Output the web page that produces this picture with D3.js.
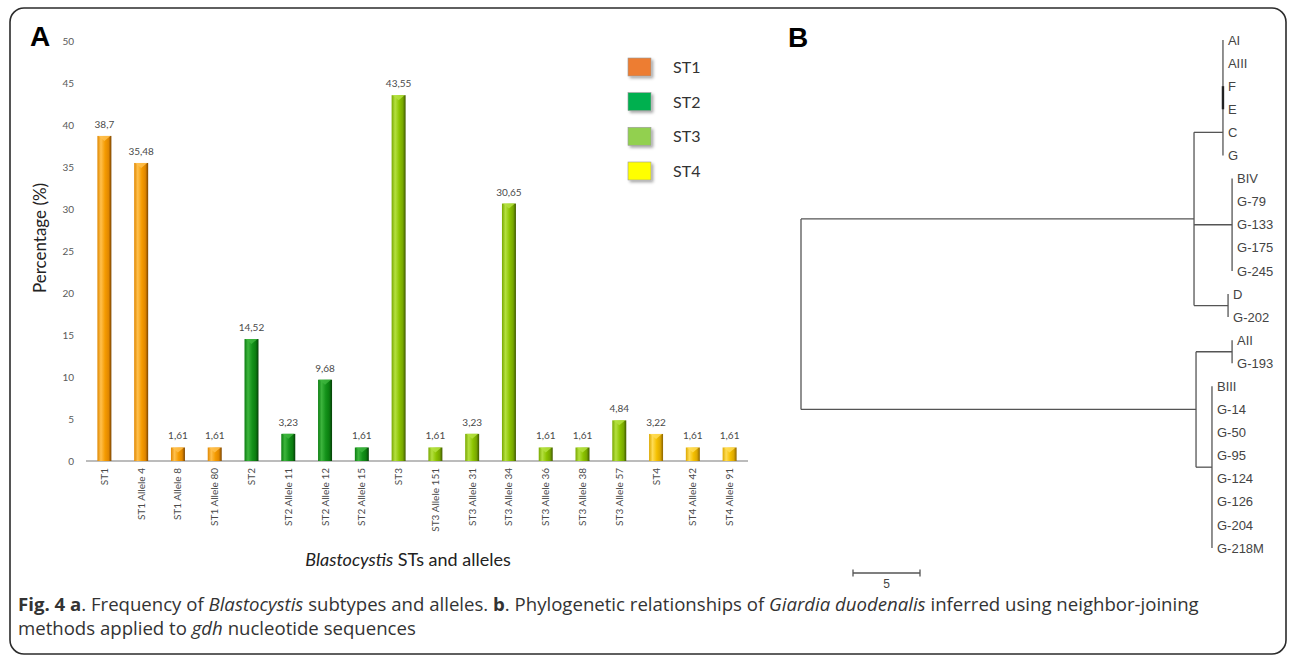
<!DOCTYPE html>
<html>
<head>
<meta charset="utf-8">
<script src="https://cdn.jsdelivr.net/npm/d3@7"></script>
<style>
  html, body { margin: 0; padding: 0; background: #fff; }
  svg { display: block; }
</style>
</head>
<body>
<script>
// data - panel A
var categories = ['ST1', 'ST1 Allele 4', 'ST1 Allele 8', 'ST1 Allele 80',
    'ST2', 'ST2 Allele 11', 'ST2 Allele 12', 'ST2 Allele 15',
    'ST3', 'ST3 Allele 151', 'ST3 Allele 31', 'ST3 Allele 34', 'ST3 Allele 36', 'ST3 Allele 38', 'ST3 Allele 57',
    'ST4', 'ST4 Allele 42', 'ST4 Allele 91'];
var values = [38.7, 35.48, 1.61, 1.61, 14.52, 3.23, 9.68, 1.61, 43.55, 1.61, 3.23, 30.65, 1.61, 1.61, 4.84, 3.22, 1.61, 1.61];
var yTicks = [0, 5, 10, 15, 20, 25, 30, 35, 40, 45, 50];
var legendNames = ['ST1', 'ST2', 'ST3', 'ST4'];
var legendColors = ['#ed7d31', '#00b050', '#92d050', '#ffff00'];
// data - panel B (branch lengths, NJ tree)
var leafNames = ['AI', 'AIII', 'F', 'E', 'C', 'G', 'BIV', 'G-79', 'G-133', 'G-175', 'G-245', 'D', 'G-202',
    'AII', 'G-193', 'BIII', 'G-14', 'G-50', 'G-95', 'G-124', 'G-126', 'G-204', 'G-218M'];
var treeData = {
    len: 0, children: [
        { len: 29.33, children: [
            { len: 2.16, joinAt: 'C', children: [
                { name: 'AI', len: 0 }, { name: 'AIII', len: 0 },
                { len: 0, thick: true, children: [{ name: 'F', len: 0 }, { name: 'E', len: 0 }] },
                { name: 'C', len: 0 }, { name: 'G', len: 0 }] },
            { len: 2.84, children: [
                { name: 'BIV', len: 0 }, { name: 'G-79', len: 0 }, { name: 'G-133', len: 0 },
                { name: 'G-175', len: 0 }, { name: 'G-245', len: 0 }] },
            { len: 2.54, children: [{ name: 'D', len: 0 }, { name: 'G-202', len: 0 }] }
        ] },
        { len: 29.48, children: [
            { len: 2.69, children: [{ name: 'AII', len: 0 }, { name: 'G-193', len: 0 }] },
            { len: 1.19, children: [
                { name: 'BIII', len: 0 }, { name: 'G-14', len: 0 }, { name: 'G-50', len: 0 }, { name: 'G-95', len: 0 },
                { name: 'G-124', len: 0 }, { name: 'G-126', len: 0 }, { name: 'G-204', len: 0 }, { name: 'G-218M', len: 0 }] }
        ] }
    ]
};
var scaleBarUnits = 5;
//end data

var W = 1292, H = 658;
var svg = d3.select('body').append('svg')
    .attr('width', W)
    .attr('height', H);

//frame
svg.append('rect')
    .attr('x', 10).attr('y', 8)
    .attr('width', W - 16).attr('height', 646)
    .attr('rx', 14)
    .attr('fill', 'none')
    .attr('stroke', '#2b2b2b')
    .attr('stroke-width', 1.6);

//panel letters
svg.append('text').attr('x', 30).attr('y', 46)
    .style('font', 'bold 28px "Liberation Sans", Arial, sans-serif')
    .text('A');
svg.append('text').attr('x', 788).attr('y', 47)
    .style('font', 'bold 28px "Liberation Sans", Arial, sans-serif')
    .text('B');

// ---------- panel A ----------
var groupColors = {
    ST1: ['#ffc04d', '#f59b00', '#e08700', '#7a4400'],
    ST2: ['#3db53d', '#14921a', '#0b7d10', '#053d07'],
    ST3: ['#b4e040', '#8cc400', '#78a800', '#3f5800'],
    ST4: ['#ffdc55', '#f5c000', '#dca800', '#8a6400']
};
var defs = svg.append('defs');
Object.keys(groupColors).forEach(function (g) {
    var c = groupColors[g];
    var grad = defs.append('linearGradient')
        .attr('id', 'grad' + g)
        .attr('x1', '0%').attr('x2', '100%').attr('y1', '0%').attr('y2', '0%');
    grad.append('stop').attr('offset', '0%').attr('stop-color', c[2]);
    grad.append('stop').attr('offset', '25%').attr('stop-color', c[0]);
    grad.append('stop').attr('offset', '55%').attr('stop-color', c[1]);
    grad.append('stop').attr('offset', '80%').attr('stop-color', c[2]);
    grad.append('stop').attr('offset', '100%').attr('stop-color', c[3]);
});
var shadow = defs.append('filter').attr('id', 'shadow')
    .attr('x', '-30%').attr('y', '-30%').attr('width', '160%').attr('height', '160%');
shadow.append('feDropShadow').attr('dx', 2).attr('dy', 2).attr('stdDeviation', 1.5)
    .attr('flood-color', '#000').attr('flood-opacity', 0.35);

var xScale = d3.scaleBand()
    .domain(categories)
    .range([86, 748])
    .paddingInner(0.62)
    .paddingOuter(0.31);
var yScale = d3.scaleLinear()
    .domain([0, 50])
    .range([461, 41]);

var labelFont = 'Lato, "Open Sans", sans-serif';

var gAxisY = svg.append('g')
    .attr('transform', 'translate(76,0)')
    .call(d3.axisLeft(yScale).tickValues(yTicks).tickSize(0).tickPadding(2));
gAxisY.select('.domain').remove();
gAxisY.selectAll('text')
    .attr('fill', '#5a5a5a')
    .style('font-family', labelFont)
    .style('font-size', '10px');

//baseline
svg.append('line')
    .attr('x1', 86).attr('x2', 748)
    .attr('y1', yScale(0)).attr('y2', yScale(0))
    .attr('stroke', '#a6a6a6')
    .attr('stroke-width', 1.5);

var bars = svg.append('g').attr('class', 'bars')
    .selectAll('g')
    .data(categories)
    .enter().append('g');
bars.append('rect')
    .attr('x', function (d) { return xScale(d); })
    .attr('y', function (d, i) { return yScale(values[i]); })
    .attr('width', xScale.bandwidth())
    .attr('height', function (d, i) { return yScale(0) - yScale(values[i]); })
    .attr('fill', function (d) { return 'url(#grad' + d.slice(0, 3) + ')'; });
bars.append('path')
    .attr('d', function (d, i) {
        var x0 = xScale(d), w = xScale.bandwidth(), y0 = yScale(values[i]);
        return 'M' + (x0 + 1) + ',' + y0 + 'L' + (x0 + w - 1) + ',' + y0 + 'L' + (x0 + w / 2) + ',' + (y0 + 5) + 'Z';
    })
    .attr('fill', function (d) { return groupColors[d.slice(0, 3)][0]; })
    .attr('opacity', 0.85);
bars.append('text')
    .attr('x', function (d) { return xScale(d) + xScale.bandwidth() / 2; })
    .attr('y', function (d, i) { return yScale(values[i]) - 8; })
    .attr('text-anchor', 'middle')
    .attr('fill', '#4a4a4a')
    .style('font-family', labelFont)
    .style('font-size', '10px')
    .text(function (d, i) { return String(values[i]).replace('.', ','); });

//x tick labels (rotated)
svg.append('g')
    .selectAll('text')
    .data(categories)
    .enter().append('text')
    .attr('transform', function (d) {
        return 'translate(' + (xScale(d) + xScale.bandwidth() / 2 + 3.5) + ',468) rotate(-90)';
    })
    .attr('text-anchor', 'end')
    .attr('fill', '#4a4a4a')
    .style('font-family', labelFont)
    .style('font-size', '10px')
    .text(function (d) { return d; });

//axis titles
svg.append('text')
    .attr('transform', 'translate(46,238) rotate(-90)')
    .attr('text-anchor', 'middle')
    .attr('fill', '#222')
    .style('font-family', labelFont)
    .style('font-size', '17px')
    .text('Percentage (%)');
var xTitle = svg.append('text')
    .attr('x', 408).attr('y', 566)
    .attr('text-anchor', 'middle')
    .attr('fill', '#222')
    .style('font-family', labelFont)
    .style('font-size', '18px');
xTitle.append('tspan').style('font-style', 'italic').text('Blastocystis');
xTitle.append('tspan').text(' STs and alleles');

//legend
var legendRowY = d3.scaleLinear().domain([0, 3]).range([67, 171]);
var leg = svg.append('g').selectAll('g')
    .data(legendNames)
    .enter().append('g')
    .attr('transform', function (d, i) { return 'translate(628,' + legendRowY(i) + ')'; });
leg.append('rect')
    .attr('x', 0).attr('y', -9)
    .attr('width', 23).attr('height', 18)
    .attr('fill', function (d, i) { return legendColors[i]; })
    .attr('stroke', '#9a9a9a')
    .attr('stroke-width', 0.6)
    .attr('filter', 'url(#shadow)');
leg.append('text')
    .attr('x', 45).attr('y', 6)
    .attr('fill', '#333')
    .style('font-family', labelFont)
    .style('font-size', '16px')
    .text(function (d) { return d; });

// ---------- panel B ----------
var xTree = d3.scaleLinear().domain([0, 35]).range([801, 801 + 35 * 13.4]);
var yLeaf = d3.scalePoint().domain(leafNames).range([40, 548]);

var root = d3.hierarchy(treeData);
root.eachBefore(function (n) {
    n.dist = (n.parent ? n.parent.dist : 0) + n.data.len;
});
root.eachAfter(function (n) {
    if (!n.children) {
        n.py = yLeaf(n.data.name);
    } else if (n.data.joinAt) {
        n.py = yLeaf(n.data.joinAt);
    } else {
        n.py = (n.children[0].py + n.children[n.children.length - 1].py) / 2;
    }
});

var gTree = svg.append('g').attr('class', 'tree');
var treeStroke = '#555';
//horizontal branches
gTree.selectAll('line.h')
    .data(root.descendants().filter(function (n) { return n.parent && n.children; }))
    .enter().append('line')
    .attr('class', 'h')
    .attr('x1', function (n) { return xTree(n.parent.dist); })
    .attr('x2', function (n) { return xTree(n.dist); })
    .attr('y1', function (n) { return n.py; })
    .attr('y2', function (n) { return n.py; })
    .attr('stroke', treeStroke)
    .attr('stroke-width', 1.3);
//vertical connectors
gTree.selectAll('line.v')
    .data(root.descendants().filter(function (n) { return n.children; }))
    .enter().append('line')
    .attr('class', 'v')
    .attr('x1', function (n) { return xTree(n.dist); })
    .attr('x2', function (n) { return xTree(n.dist); })
    .attr('y1', function (n) { return n.children[0].py; })
    .attr('y2', function (n) { return n.children[n.children.length - 1].py; })
    .attr('stroke', function (n) { return n.data.thick ? '#222' : treeStroke; })
    .attr('stroke-width', function (n) { return n.data.thick ? 2.4 : 1.3; });
//leaf labels
gTree.selectAll('text')
    .data(root.leaves())
    .enter().append('text')
    .attr('x', function (n) { return xTree(n.dist) + 5; })
    .attr('y', function (n) { return n.py; })
    .attr('dy', '0.36em')
    .attr('fill', '#444')
    .style('font-family', '"Liberation Sans", Arial, sans-serif')
    .style('font-size', '13px')
    .text(function (n) { return n.data.name; });

//scale bar
var sbX = 853, sbY = 573;
var sbLen = xTree(scaleBarUnits) - xTree(0);
var sb = svg.append('g').attr('stroke', treeStroke).attr('stroke-width', 1.3);
sb.append('line').attr('x1', sbX).attr('x2', sbX + sbLen).attr('y1', sbY).attr('y2', sbY);
sb.append('line').attr('x1', sbX).attr('x2', sbX).attr('y1', sbY - 3.5).attr('y2', sbY + 3.5);
sb.append('line').attr('x1', sbX + sbLen).attr('x2', sbX + sbLen).attr('y1', sbY - 3.5).attr('y2', sbY + 3.5);
svg.append('text')
    .attr('x', sbX + sbLen / 2).attr('y', sbY + 15)
    .attr('text-anchor', 'middle')
    .attr('fill', '#444')
    .style('font-family', '"Liberation Sans", Arial, sans-serif')
    .style('font-size', '12px')
    .text(scaleBarUnits);

// ---------- caption ----------
var capFont = '"Open Sans", sans-serif';
var cap1 = svg.append('text').attr('x', 18).attr('y', 611)
    .attr('fill', '#333').style('font-family', capFont).style('font-size', '18.6px');
cap1.append('tspan').style('font-weight', 'bold').text('Fig. 4 a');
cap1.append('tspan').text('. Frequency of ');
cap1.append('tspan').style('font-style', 'italic').text('Blastocystis');
cap1.append('tspan').text(' subtypes and alleles. ');
cap1.append('tspan').style('font-weight', 'bold').text('b');
cap1.append('tspan').text('. Phylogenetic relationships of ');
cap1.append('tspan').style('font-style', 'italic').text('Giardia duodenalis');
cap1.append('tspan').text(' inferred using neighbor-joining');
var cap2 = svg.append('text').attr('x', 18).attr('y', 635)
    .attr('fill', '#333').style('font-family', capFont).style('font-size', '18.6px');
cap2.append('tspan').text('methods applied to ');
cap2.append('tspan').style('font-style', 'italic').text('gdh');
cap2.append('tspan').text(' nucleotide sequences');
</script>
</body>
</html>
